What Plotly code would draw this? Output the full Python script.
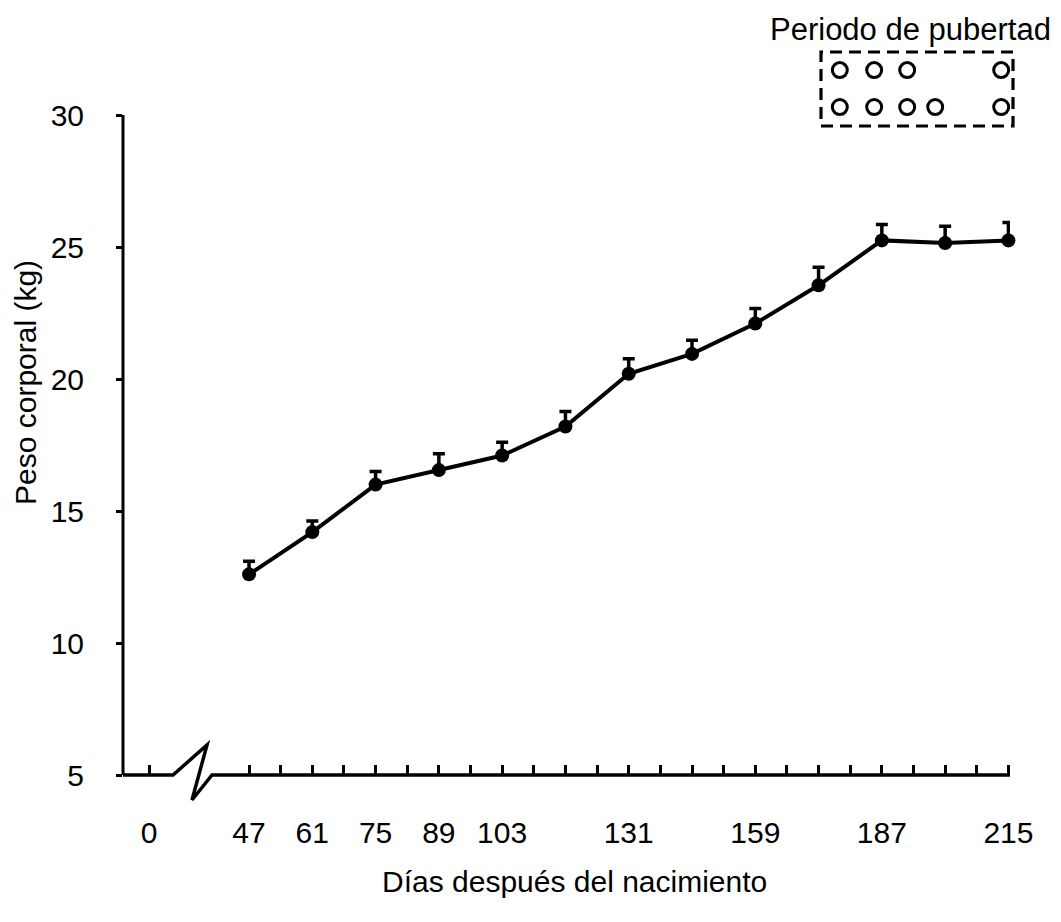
import plotly.graph_objects as go

# ---------------- data ----------------
dias = [47, 61, 75, 89, 103, 117, 131, 145, 159, 173, 187, 201, 215]
peso = [12.6, 14.2, 16.0, 16.55, 17.1, 18.2, 20.2, 20.95, 22.1, 23.55, 25.25, 25.15, 25.25]
error_sup = [0.5, 0.42, 0.5, 0.62, 0.5, 0.57, 0.57, 0.52, 0.57, 0.68, 0.6, 0.64, 0.68]

etiquetas_x = ["0", "47", "61", "75", "89", "103", "131", "159", "187", "215"]
etiquetas_y = [5, 10, 15, 20, 25, 30]

# puberty inset (circle positions on the day scale, two rows)
pubertad_fila1 = [177.7, 185.3, 192.6, 213.4]
pubertad_fila2 = [177.7, 185.3, 192.6, 198.8, 213.4]
fila1_y = 31.7
fila2_y = 30.3

# ---------------- layout geometry (reference pixel frame) ----------------
OFF = 8                       # page body margin
W, H = 1061 - OFF, 922 - OFF
PL, PR, PT, PB = 123, 1010, 20, 775   # plot box in reference pixels
PW, PH = PR - PL, PB - PT
X0, X1 = 19.12, 215.35        # day range across plot width
Y0 = 5
Y1 = 5 + (PB - PT) / 26.4     # extra room above 30 for the puberty inset
POS_CERO = 24.9               # where the "0" day sits left of the axis break

def px(xp):
    return (xp - PL) / PW

def py(yp):
    return (PB - yp) / PH

FONT = "Liberation Sans, Arial, sans-serif"
FS = 30

fig = go.Figure()

fig.add_trace(go.Scatter(
    x=dias, y=peso, mode="lines+markers",
    line=dict(color="black", width=4),
    marker=dict(color="black", size=14, symbol="circle"),
    error_y=dict(type="data", array=error_sup, arrayminus=[0] * len(dias),
                 symmetric=False, color="black", thickness=3.5, width=6),
    cliponaxis=False, showlegend=False,
))

for xs, yv in ((pubertad_fila1, fila1_y), (pubertad_fila2, fila2_y)):
    fig.add_trace(go.Scatter(
        x=xs, y=[yv] * len(xs), mode="markers",
        marker=dict(symbol="circle-open", size=15, color="black", line=dict(width=3)),
        cliponaxis=False, showlegend=False,
    ))

# x ticks: zero before the break, then every 7 days
tickvals = [POS_CERO] + list(range(47, 216, 7))
ticktext = ["0"] + [str(v) if str(v) in etiquetas_x else "" for v in range(47, 216, 7)]

fig.update_xaxes(
    range=[X0, X1], showline=False, showgrid=False, zeroline=False,
    tickmode="array", tickvals=tickvals, ticktext=ticktext,
    ticks="inside", ticklen=10, tickwidth=3, tickcolor="black",
    tickfont=dict(family=FONT, size=FS, color="black"),
    ticklabelstandoff=37,
)
fig.update_yaxes(
    range=[Y0, Y1], showline=False, showgrid=False, zeroline=False,
    tickmode="array", tickvals=etiquetas_y,
    ticks="outside", ticklen=6, tickwidth=3, tickcolor="black",
    tickfont=dict(family=FONT, size=FS, color="black"),
    ticklabelstandoff=26,
)

# y axis line from 5 to 30
fig.add_shape(type="line", xref="paper", yref="y", x0=0, x1=0,
              y0=etiquetas_y[0], y1=etiquetas_y[-1],
              line=dict(color="black", width=3), layer="above")

# broken x axis line
path = (f"M {px(PL)} {py(775)} L {px(173)} {py(775)} L {px(207)} {py(745)} "
        f"L {px(192)} {py(800)} L {px(212)} {py(775)} L {px(1010)} {py(775)}")
fig.add_shape(type="path", path=path, xref="paper", yref="paper",
              line=dict(color="black", width=3.5), layer="above")

# dashed puberty box
fig.add_shape(type="rect", xref="paper", yref="paper",
              x0=px(821), x1=px(1013), y0=py(126), y1=py(52),
              line=dict(color="black", width=3.2, dash="12px,7px"))

fig.add_annotation(text="Periodo de pubertad", xref="paper", yref="paper",
                   x=px(910), y=py(30), xanchor="center", yanchor="middle",
                   showarrow=False, font=dict(family=FONT, size=31, color="black"))
fig.add_annotation(text="Peso corporal (kg)", xref="paper", yref="paper",
                   x=px(25), y=py(383), xanchor="center", yanchor="middle",
                   showarrow=False, textangle=-90,
                   font=dict(family=FONT, size=FS, color="black"))
fig.add_annotation(text="Días después del nacimiento", xref="paper", yref="paper",
                   x=px(574), y=py(882), xanchor="center", yanchor="middle",
                   showarrow=False, font=dict(family=FONT, size=FS, color="black"))

fig.update_layout(
    width=W, height=H,
    margin=dict(l=PL - OFF, r=W - (PR - OFF), t=PT - OFF, b=H - (PB - OFF), autoexpand=False),
    paper_bgcolor="white", plot_bgcolor="white",
)

fig.write_html("out.html")
